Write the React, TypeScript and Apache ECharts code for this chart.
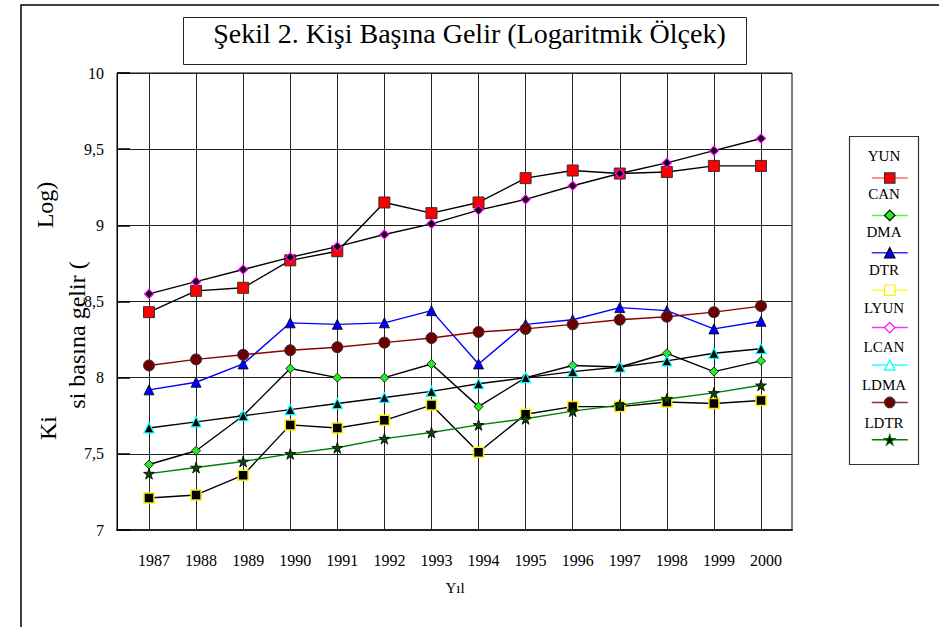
import React, { useEffect, useRef } from 'react';
import * as echarts from 'echarts';

const years = ['1987', '1988', '1989', '1990', '1991', '1992', '1993', '1994', '1995', '1996', '1997', '1998', '1999', '2000'];

const YUN = [8.43, 8.57, 8.59, 8.77, 8.83, 9.15, 9.08, 9.15, 9.31, 9.36, 9.34, 9.35, 9.39, 9.39];
const CAN = [7.43, 7.52, 7.75, 8.06, 8.0, 8.0, 8.09, 7.81, 8.0, 8.08, 8.07, 8.16, 8.04, 8.11];
const DMA = [7.92, 7.97, 8.09, 8.36, 8.35, 8.36, 8.44, 8.09, 8.35, 8.38, 8.46, 8.44, 8.32, 8.37];
const DTR = [7.21, 7.23, 7.36, 7.69, 7.67, 7.72, 7.82, 7.51, 7.76, 7.81, 7.81, 7.84, 7.83, 7.85];
const LYUN = [8.55, 8.63, 8.71, 8.79, 8.86, 8.94, 9.01, 9.1, 9.17, 9.26, 9.34, 9.41, 9.49, 9.57];
const LCAN = [7.67, 7.71, 7.75, 7.79, 7.83, 7.87, 7.91, 7.96, 8.0, 8.04, 8.07, 8.11, 8.16, 8.19];
const LDMA = [8.08, 8.12, 8.15, 8.18, 8.2, 8.23, 8.26, 8.3, 8.32, 8.35, 8.38, 8.4, 8.43, 8.47];
const LDTR = [7.37, 7.41, 7.45, 7.5, 7.54, 7.6, 7.64, 7.69, 7.73, 7.78, 7.82, 7.86, 7.9, 7.95];

const seriesNames = ['YUN', 'CAN', 'DMA', 'DTR', 'LYUN', 'LCAN', 'LDMA', 'LDTR'];
const seriesValues = [YUN, CAN, DMA, DTR, LYUN, LCAN, LDMA, LDTR];

const yMin = 7;
const yMax = 10;
const yStep = 0.5;

const titleText = 'Şekil 2. Kişi Başına Gelir (Logaritmik Ölçek)';
const xName = 'Yıl';

const STAR =
  'path://M0,-10L2.25,-3.09L9.51,-3.09L3.63,1.18L5.88,8.09L0,3.82L-5.88,8.09L-3.63,1.18L-9.51,-3.09L-2.25,-3.09Z';

const FONT = '"Liberation Serif", "Times New Roman", serif';

type Sty = {
  symbol: string;
  size: number;
  fill: string;
  border: string;
  bw: number;
  line: string;
  lFill: string;
  lBorder: string;
  lLine: string;
};

const styles: Record<string, Sty> = {
  YUN: { symbol: 'rect', size: 11, fill: '#ff0000', border: '#333333', bw: 1, line: '#000000', lFill: '#ff0000', lBorder: '#333333', lLine: '#ff7070' },
  CAN: { symbol: 'diamond', size: 9, fill: '#22ee22', border: '#000000', bw: 0.8, line: '#000000', lFill: '#22ee22', lBorder: '#000000', lLine: '#44ff44' },
  DMA: { symbol: 'triangle', size: 10, fill: '#0000ff', border: '#000000', bw: 0.8, line: '#0000ff', lFill: '#0000ff', lBorder: '#000000', lLine: '#3333ff' },
  DTR: { symbol: 'rect', size: 10, fill: '#000000', border: '#ffee00', bw: 1.5, line: '#000000', lFill: '#ffffff', lBorder: '#ffee00', lLine: '#ffff33' },
  LYUN: { symbol: 'diamond', size: 9, fill: '#000000', border: '#ff00ff', bw: 1.2, line: '#000000', lFill: '#ffffff', lBorder: '#ff00ff', lLine: '#ff33ff' },
  LCAN: { symbol: 'triangle', size: 10, fill: '#000000', border: '#00ffff', bw: 1.2, line: '#000000', lFill: '#ffffff', lBorder: '#00ffff', lLine: '#33ffff' },
  LDMA: { symbol: 'circle', size: 11, fill: '#700000', border: '#333333', bw: 1, line: '#880000', lFill: '#700000', lBorder: '#333333', lLine: '#883333' },
  LDTR: { symbol: STAR, size: 11, fill: '#064a06', border: '#000000', bw: 0.8, line: '#008000', lFill: '#000000', lBorder: '#006600', lLine: '#008000' },
};

export default function App() {
  const ref = useRef<HTMLDivElement>(null);

  useEffect(() => {
    if (!ref.current) return;
    const chart = echarts.init(ref.current, null, { renderer: 'svg' });

    const series = seriesNames.map((name, i) => {
      const s = styles[name];
      return {
        name,
        type: 'line',
        xAxisIndex: 1,
        yAxisIndex: 1,
        data: seriesValues[i],
        symbol: s.symbol,
        symbolSize: s.size,
        showAllSymbol: true,
        lineStyle: { color: s.line, width: 1.4 },
        itemStyle: { color: s.fill, borderColor: s.border, borderWidth: s.bw },
        emphasis: { disabled: true },
        z: 3 + i * 0.01,
      };
    });

    const legendData = seriesNames.map((name) => {
      const s = styles[name];
      return {
        name,
        itemStyle: { color: s.lFill, borderColor: s.lBorder, borderWidth: 1.2 },
        lineStyle: { color: s.lLine, width: 1.5 },
      };
    });

    const legendTop = 173;
    const legendStep = 38.1;
    const legendTexts = seriesNames.map((name, i) => ({
      type: 'text',
      x: 884,
      y: 156 + i * legendStep,
      style: {
        text: name,
        font: `15px ${FONT}`,
        fill: '#000',
        textAlign: 'center',
        textVerticalAlign: 'middle',
      },
      z: 10,
    }));

    const option: any = {
      animation: false,
      backgroundColor: '#ffffff',
      textStyle: { fontFamily: FONT, color: '#000' },
      title: {
        text: titleText,
        left: 'center',
        top: 19,
        padding: [0, 10, 0, 0],
        textStyle: { fontFamily: FONT, fontSize: 28, fontWeight: 'normal', color: '#000' },
      },
      legend: {
        orient: 'vertical',
        left: 866,
        top: legendTop - 6.5,
        itemWidth: 36,
        itemHeight: 13,
        itemGap: legendStep - 13,
        formatter: () => '',
        textStyle: { fontSize: 8 },
        selectedMode: false,
        data: legendData,
      },
      grid: [
        { left: 117, top: 73, width: 675, height: 457, show: true, borderColor: '#000', borderWidth: 1, backgroundColor: 'transparent' },
        { left: 149, top: 73, width: 612, height: 457 },
      ],
      xAxis: [
        {
          gridIndex: 0,
          type: 'value',
          min: 0,
          max: 1,
          axisLine: { show: true, lineStyle: { color: '#222', width: 2 } },
          axisTick: { show: false },
          axisLabel: { show: false },
          splitLine: { show: false },
        },
        {
          gridIndex: 1,
          type: 'category',
          data: years,
          boundaryGap: false,
          name: xName,
          nameLocation: 'middle',
          nameGap: 50,
          nameTextStyle: { fontFamily: FONT, fontSize: 15, color: '#000' },
          axisLine: { show: false },
          axisTick: { show: false },
          axisLabel: { interval: 0, margin: 22, padding: [0, 0, 0, 10], fontFamily: FONT, fontSize: 16, color: '#000' },
          splitLine: { show: true, interval: 0, lineStyle: { color: '#222', width: 1 } },
        },
      ],
      yAxis: [
        {
          gridIndex: 0,
          type: 'value',
          min: yMin,
          max: yMax,
          interval: yStep,
          axisLine: { show: true, lineStyle: { color: '#000', width: 1 } },
          axisTick: { show: true, inside: true, length: 13, lineStyle: { color: '#000', width: 1.5 } },
          axisLabel: {
            margin: 13,
            padding: [5, 0, 0, 0],
            fontFamily: FONT,
            fontSize: 16,
            color: '#000',
            formatter: (v: number) => String(v).replace('.', ','),
          },
          splitLine: { show: true, lineStyle: { color: '#222', width: 1 } },
        },
        { gridIndex: 1, type: 'value', min: yMin, max: yMax, show: false },
      ],
      series,
      graphic: [
        {
          type: 'rect',
          shape: { x: 21, y: 5, width: 1000, height: 700 },
          style: { fill: 'none', stroke: '#000', lineWidth: 1.5 },
          z: 0,
          silent: true,
        },
        {
          type: 'rect',
          shape: { x: 183.5, y: 17.5, width: 563, height: 47 },
          style: { fill: 'none', stroke: '#222', lineWidth: 1 },
          z: 0,
          silent: true,
        },
        {
          type: 'rect',
          shape: { x: 849.5, y: 136.5, width: 69, height: 328 },
          style: { fill: 'none', stroke: '#333', lineWidth: 1.2 },
          z: 0,
          silent: true,
        },
        ...legendTexts,
        {
          type: 'text',
          x: 45,
          y: 205,
          rotation: Math.PI / 2,
          style: { text: 'Log)', font: `24px ${FONT}`, fill: '#000', textAlign: 'center', textVerticalAlign: 'middle' },
          silent: true,
        },
        {
          type: 'text',
          x: 48,
          y: 428,
          rotation: Math.PI / 2,
          style: { text: 'Ki', font: `24px ${FONT}`, fill: '#000', textAlign: 'center', textVerticalAlign: 'middle' },
          silent: true,
        },
        {
          type: 'text',
          x: 77,
          y: 335,
          rotation: Math.PI / 2,
          style: { text: 'si basına gelir (', font: `24px ${FONT}`, fill: '#000', textAlign: 'center', textVerticalAlign: 'middle' },
          silent: true,
        },
      ],
    };

    chart.setOption(option);
    return () => chart.dispose();
  }, []);

  return (
    <div
      ref={ref}
      style={{ position: 'absolute', left: 0, top: 0, width: 939, height: 627, background: '#fff' }}
    />
  );
}
